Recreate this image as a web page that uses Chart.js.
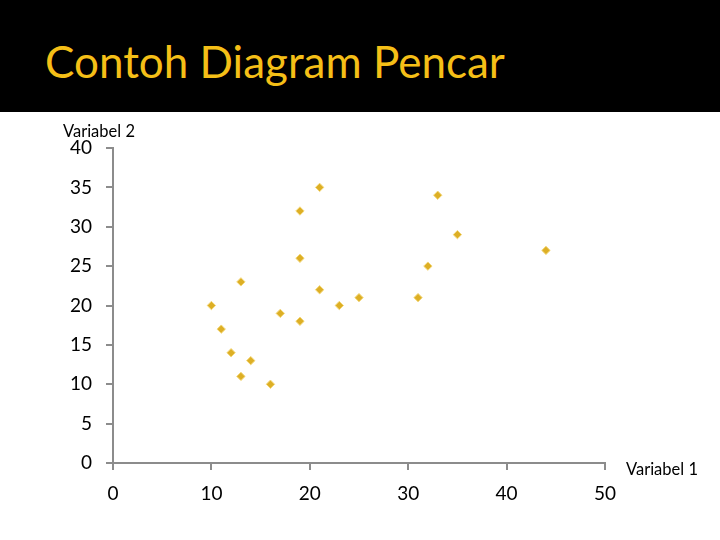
<!DOCTYPE html>
<html>
<head>
<meta charset="utf-8">
<script src="https://cdn.jsdelivr.net/npm/chart.js@4/dist/chart.umd.min.js"></script>
<style>
  html, body { margin: 0; padding: 0; background: #fff; }
  #band { width: 720px; height: 112px; background: #000; position: relative; }
  #title { position: absolute; left: 45px; top: 35px; font-family: Lato, "Open Sans", sans-serif; font-size: 44px; color: #F5BF17; white-space: nowrap; }
  #wrap { width: 720px; height: 428px; position: relative; }
</style>
</head>
<body>
<div id="band"><div id="title">Contoh Diagram Pencar</div></div>
<div id="wrap"><canvas id="c" width="720" height="428"></canvas></div>
<script>
const variabel1 = [10, 11, 12, 13, 13, 14, 16, 17, 19, 19, 19, 21, 21, 23, 25, 31, 32, 33, 35, 44];
const variabel2 = [20, 17, 14, 11, 23, 13, 10, 19, 18, 26, 32, 35, 22, 20, 21, 21, 25, 34, 29, 27];
const xTicks = [0, 10, 20, 30, 40, 50];
const yTicks = [0, 5, 10, 15, 20, 25, 30, 35, 40];
const xAxisTitle = 'Variabel 1';
const yAxisTitle = 'Variabel 2';

const points = variabel1.map((x, i) => ({ x: x, y: variabel2[i] }));

const labelsPlugin = {
  id: 'axisTitles',
  afterDraw(chart) {
    const ctx = chart.ctx;
    ctx.save();
    ctx.fillStyle = '#000';
    ctx.font = '16.5px Lato, "Open Sans", sans-serif';
    ctx.textBaseline = 'middle';
    ctx.textAlign = 'left';
    ctx.fillText(yAxisTitle, 63, 20);
    ctx.fillText(xAxisTitle, 626, 358);
    ctx.restore();
  }
};

new Chart(document.getElementById('c'), {
  type: 'scatter',
  data: {
    datasets: [{
      data: points,
      pointStyle: 'rectRot',
      pointRadius: 4.2,
      pointBackgroundColor: '#DDAF25',
      pointBorderColor: '#F3D77A',
      pointBorderWidth: 1,
      showLine: false
    }]
  },
  options: {
    responsive: false,
    animation: false,
    layout: { padding: { top: 36, right: 115, left: 0, bottom: 0 } },
    plugins: { legend: { display: false }, tooltip: { enabled: false }, title: { display: false } },
    scales: {
      x: {
        type: 'linear', min: 0, max: 50,
        afterBuildTicks(s) { s.ticks = xTicks.map(v => ({ value: v })); },
        afterFit(s) { s.height = 428 - 351; },
        border: { display: true, color: '#8c8c8c', width: 2 },
        grid: { display: true, drawOnChartArea: false, drawTicks: true, tickLength: 7, color: '#8c8c8c', lineWidth: 2 },
        ticks: { color: '#000', font: { size: 19, family: 'Lato, "Open Sans", sans-serif' }, padding: 12, maxRotation: 0 }
      },
      y: {
        type: 'linear', min: 0, max: 40,
        afterBuildTicks(s) { s.ticks = yTicks.map(v => ({ value: v })); },
        afterFit(s) { s.width = 113; },
        border: { display: true, color: '#8c8c8c', width: 2 },
        grid: { display: true, drawOnChartArea: false, drawTicks: true, tickLength: 7, color: '#8c8c8c', lineWidth: 2 },
        ticks: { color: '#000', font: { size: 19, family: 'Lato, "Open Sans", sans-serif' }, padding: 14 }
      }
    }
  },
  plugins: [labelsPlugin]
});
</script>
</body>
</html>
